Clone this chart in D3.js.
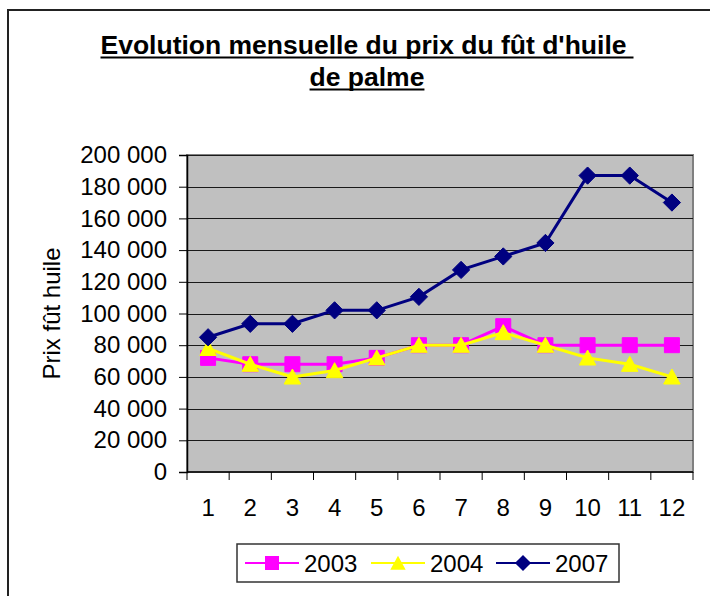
<!DOCTYPE html>
<html>
<head>
<meta charset="utf-8">
<script src="https://cdn.jsdelivr.net/npm/d3@7"></script>
<style>
  body { margin: 0; background: #fff; }
  svg { display: block; font-family: Arial, "Liberation Sans", sans-serif; }
</style>
</head>
<body>
<svg id="chart" width="710" height="596"></svg>
<script>
// months on the x axis
const months = [1, 2, 3, 4, 5, 6, 7, 8, 9, 10, 11, 12];

// price of a barrel of palm oil, per year
const prix2003 = [72000, 68000, 68000, 68000, 72000, 80000, 80000, 92000, 80000, 80000, 80000, 80000];
const prix2004 = [78000, 68000, 60000, 64000, 72000, 80000, 80000, 88000, 80000, 72000, 68000, 60000];
const prix2007 = [85000, 93500, 93500, 102000, 102000, 110500, 127500, 136000, 144500, 187000, 187000, 170000];

const yTicks = [0, 20000, 40000, 60000, 80000, 100000, 120000, 140000, 160000, 180000, 200000];

const series = [
    { name: "2003", values: prix2003, color: "#ff00ff", marker: "square" },
    { name: "2004", values: prix2004, color: "#ffff00", marker: "triangle" },
    { name: "2007", values: prix2007, color: "#000080", marker: "diamond" }
];

const svg = d3.select("#chart");

// plot area bounds
const plotL = 187, plotR = 693, plotT = 155, plotB = 472;

const x = d3.scaleBand().domain(months).range([plotL, plotR]);
const y = d3.scaleLinear().domain([0, 200000]).range([plotB, plotT]);

const fr = d3.formatLocale({ decimal: ",", thousands: " ", grouping: [3], currency: ["", ""] });
const fmt = fr.format(",");

// outer frame
svg.append("rect")
    .attr("x", 8).attr("y", 10)
    .attr("width", 740).attr("height", 640)
    .attr("fill", "#fff")
    .attr("stroke", "#222")
    .attr("stroke-width", 2);

// title, underlined (line 1 underline runs over a trailing space)
const titleLines = [
    { text: "Evolution mensuelle du prix du fût d'huile", base: 54, extra: 7 },
    { text: "de palme", base: 86, extra: 0 }
];
const titleCx = 367;
titleLines.forEach(t => {
    const txt = svg.append("text")
        .attr("y", t.base)
        .attr("font-size", 26.5)
        .attr("font-weight", "bold")
        .attr("fill", "#000")
        .text(t.text);
    const w = txt.node().getComputedTextLength() + t.extra;
    const x0 = titleCx - w / 2;
    txt.attr("x", x0);
    svg.append("line")
        .attr("x1", x0).attr("x2", x0 + w)
        .attr("y1", t.base + 3.5).attr("y2", t.base + 3.5)
        .attr("stroke", "#000")
        .attr("stroke-width", 2.2);
});

// plot background
svg.append("rect")
    .attr("x", plotL).attr("y", plotT)
    .attr("width", plotR - plotL).attr("height", plotB - plotT)
    .attr("fill", "#c0c0c0")
    .attr("stroke", "#808080")
    .attr("stroke-width", 2);

// gridlines
svg.append("g")
    .selectAll("line")
    .data(yTicks.filter(d => d > 0))
    .join("line")
    .attr("x1", plotL).attr("x2", plotR)
    .attr("y1", d => Math.round(y(d)) + 0.5)
    .attr("y2", d => Math.round(y(d)) + 0.5)
    .attr("stroke", "#1a1a1a")
    .attr("stroke-width", 1);

// y axis
const yAxis = svg.append("g")
    .attr("transform", `translate(${plotL},0)`)
    .call(d3.axisLeft(y).tickValues(yTicks).tickFormat(fmt).tickSize(8).tickPadding(12));
yAxis.select(".domain").attr("stroke", "#000").attr("stroke-width", 1.5);
yAxis.selectAll(".tick line").attr("stroke", "#000");
yAxis.selectAll("text").attr("font-size", 24).attr("fill", "#000").attr("font-family", "Arial, 'Liberation Sans', sans-serif");

// x axis: ticks on category boundaries
svg.append("line")
    .attr("x1", plotL).attr("x2", plotR)
    .attr("y1", plotB).attr("y2", plotB)
    .attr("stroke", "#000").attr("stroke-width", 1.5);
svg.append("g")
    .selectAll("line")
    .data(months.concat([13]))
    .join("line")
    .attr("x1", d => d <= 12 ? x(d) : plotR)
    .attr("x2", d => d <= 12 ? x(d) : plotR)
    .attr("y1", plotB).attr("y2", plotB + 8)
    .attr("stroke", "#000");
svg.append("g")
    .selectAll("text")
    .data(months)
    .join("text")
    .attr("x", d => x(d) + x.bandwidth() / 2)
    .attr("y", 516)
    .attr("text-anchor", "middle")
    .attr("font-size", 24)
    .text(d => d);

// y axis title
svg.append("text")
    .attr("transform", `translate(60,${(plotT + plotB) / 2}) rotate(-90)`)
    .attr("text-anchor", "middle")
    .attr("font-size", 24)
    .text("Prix fût huile");

// marker shapes
const markerPath = (type, s) => {
    if (type === "square") return `M${-s},${-s}H${s}V${s}H${-s}Z`;
    if (type === "triangle") return `M0,${-s * 1.05}L${s * 1.1},${s * 0.95}L${-s * 1.1},${s * 0.95}Z`;
    return `M0,${-s * 1.15}L${s * 1.15},0L0,${s * 1.15}L${-s * 1.15},0Z`;
};

const line = d3.line()
    .x((d, i) => x(months[i]) + x.bandwidth() / 2)
    .y(d => y(d));

series.forEach(s => {
    const g = svg.append("g");
    g.append("path")
        .attr("d", line(s.values))
        .attr("fill", "none")
        .attr("stroke", s.color)
        .attr("stroke-width", 3);
    g.selectAll("path.mk")
        .data(s.values)
        .join("path")
        .attr("class", "mk")
        .attr("transform", (d, i) => `translate(${x(months[i]) + x.bandwidth() / 2},${y(d)})`)
        .attr("d", markerPath(s.marker, 7.5))
        .attr("fill", s.color)
        .attr("stroke", s.color)
        .attr("stroke-width", 1);
});

// legend
const legend = svg.append("g");
legend.append("rect")
    .attr("x", 237).attr("y", 544)
    .attr("width", 382).attr("height", 38)
    .attr("fill", "#fff")
    .attr("stroke", "#333")
    .attr("stroke-width", 1.5);

const legendX = [245, 371, 496];
series.forEach((s, i) => {
    const lx = legendX[i], ly = 563;
    legend.append("line")
        .attr("x1", lx).attr("x2", lx + 54)
        .attr("y1", ly).attr("y2", ly)
        .attr("stroke", s.color).attr("stroke-width", 2);
    legend.append("path")
        .attr("transform", `translate(${lx + 27},${ly})`)
        .attr("d", markerPath(s.marker, 7))
        .attr("fill", s.color);
    legend.append("text")
        .attr("x", lx + 59).attr("y", ly + 8.5)
        .attr("font-size", 24)
        .text(s.name);
});
</script>
</body>
</html>
